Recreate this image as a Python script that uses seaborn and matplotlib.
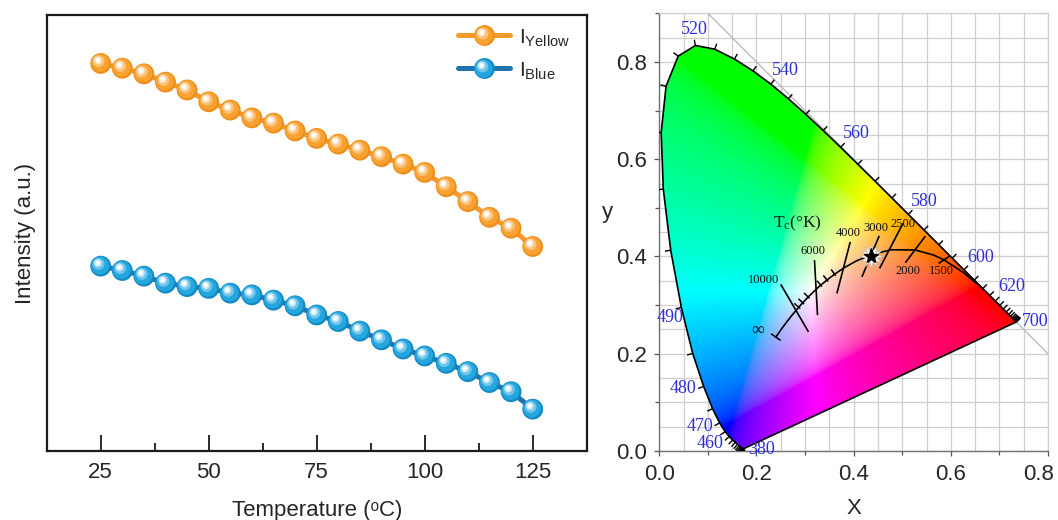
import numpy as np
import pandas as pd
import matplotlib
matplotlib.use("Agg")
import matplotlib.pyplot as plt
import seaborn as sns
from matplotlib.transforms import ScaledTranslation
from matplotlib.lines import Line2D
from matplotlib.patches import Polygon
from matplotlib.collections import LineCollection
from matplotlib.legend_handler import HandlerBase
from matplotlib.ticker import FixedLocator, FormatStrFormatter
from matplotlib.colors import to_rgb

# ---------------- data: left panel ----------------
temperature = [25, 30, 35, 40, 45, 50, 55, 60, 65, 70, 75, 80, 85, 90, 95, 100, 105, 110, 115, 120, 125]
i_yellow = [88.9, 87.8, 86.5, 84.6, 82.8, 80.1, 78.2, 76.4, 75.2, 73.4, 71.7, 70.4, 69.0, 67.5,
            65.8, 63.9, 60.6, 57.2, 53.6, 51.1, 46.9]
i_blue = [42.4, 41.4, 40.1, 38.5, 37.7, 37.3, 36.2, 35.8, 34.6, 33.3, 31.2, 29.7, 27.5, 25.5,
          23.4, 21.8, 20.1, 18.2, 15.7, 13.6, 9.6]
x_ticks_left = [25, 50, 75, 100, 125]

# ---------------- data: CIE 1931 panel ----------------
wavelength = list(range(380, 705, 5))
locus_x = [0.1741, 0.1740, 0.1738, 0.1736, 0.1733, 0.1730, 0.1726, 0.1721, 0.1714, 0.1703,
           0.1689, 0.1669, 0.1644, 0.1611, 0.1566, 0.1510, 0.1440, 0.1355, 0.1241, 0.1096,
           0.0913, 0.0687, 0.0454, 0.0235, 0.0082, 0.0039, 0.0139, 0.0389, 0.0743, 0.1142,
           0.1547, 0.1929, 0.2296, 0.2658, 0.3016, 0.3373, 0.3731, 0.4087, 0.4441, 0.4788,
           0.5125, 0.5448, 0.5752, 0.6029, 0.6270, 0.6482, 0.6658, 0.6801, 0.6915, 0.7006,
           0.7079, 0.7140, 0.7190, 0.7230, 0.7260, 0.7283, 0.7300, 0.7311, 0.7320, 0.7327,
           0.7334, 0.7340, 0.7344, 0.7346, 0.7347]
locus_y = [0.0050, 0.0050, 0.0049, 0.0049, 0.0048, 0.0048, 0.0048, 0.0048, 0.0051, 0.0058,
           0.0069, 0.0086, 0.0109, 0.0138, 0.0177, 0.0227, 0.0297, 0.0399, 0.0578, 0.0868,
           0.1327, 0.2007, 0.2950, 0.4127, 0.5384, 0.6548, 0.7502, 0.8120, 0.8338, 0.8262,
           0.8059, 0.7816, 0.7543, 0.7243, 0.6923, 0.6589, 0.6245, 0.5896, 0.5547, 0.5202,
           0.4866, 0.4544, 0.4242, 0.3965, 0.3725, 0.3514, 0.3340, 0.3197, 0.3083, 0.2993,
           0.2920, 0.2859, 0.2809, 0.2770, 0.2740, 0.2717, 0.2700, 0.2689, 0.2680, 0.2673,
           0.2666, 0.2660, 0.2656, 0.2654, 0.2653]
wl_labels = [380, 460, 470, 480, 490, 520, 540, 560, 580, 600, 620, 700]

planck_T = [np.inf, 25000, 20000, 15000, 12000, 10000, 9000, 8000, 7000, 6500, 6000, 5500,
            5000, 4500, 4000, 3500, 3000, 2500, 2000, 1667, 1500, 1200, 1000]
planck_x = [0.2399, 0.2525, 0.2564, 0.2637, 0.2718, 0.2807, 0.2870, 0.2952, 0.3064, 0.3135,
            0.3221, 0.3323, 0.3451, 0.3607, 0.3805, 0.4053, 0.4369, 0.4770, 0.5267, 0.5646,
            0.5857, 0.6253, 0.6528]
planck_y = [0.2342, 0.2523, 0.2576, 0.2672, 0.2776, 0.2883, 0.2956, 0.3048, 0.3166, 0.3236,
            0.3318, 0.3410, 0.3516, 0.3635, 0.3768, 0.3907, 0.4041, 0.4137, 0.4133, 0.4029,
            0.3931, 0.3674, 0.3444]
minor_iso_T = [9000, 8000, 7000, 5500, 5000, 4500]

iso_labels = ["10000", "6000", "4000", "3000", "2500", "2000", "1500"]
iso_x0 = [0.250, 0.3194, 0.393, 0.4527, 0.5015, 0.5475, 0.5976]
iso_y0 = [0.3426, 0.3925, 0.430, 0.4425, 0.468, 0.4418, 0.4007]
iso_x1 = [0.307, 0.3256, 0.3655, 0.417, 0.4533, 0.5063, 0.5749]
iso_y1 = [0.245, 0.2795, 0.324, 0.358, 0.3755, 0.387, 0.3857]

sample_x = [0.4362]
sample_y = [0.4007]

# ---------------- style ----------------
sns.set_theme(style="ticks")
plt.rcParams["font.family"] = ["Liberation Sans", "DejaVu Sans"]
plt.rcParams["mathtext.fontset"] = "custom"
plt.rcParams["mathtext.sf"] = "Liberation Sans"
plt.rcParams["mathtext.rm"] = "Liberation Serif"
plt.rcParams["mathtext.it"] = "Liberation Serif:italic"

W, H = 1058, 520
fig = plt.figure(figsize=(W / 100, H / 100), dpi=100)

ax1 = fig.add_axes([46.7 / W, (H - 451) / H, 540 / W, 436 / H])
ax2 = fig.add_axes([659.3 / W, (H - 451) / H, 388.7 / W, 437.7 / H])

# ---------------- left panel ----------------
orange = "#F9A232"
orange_dark = "#EE8E1A"
orange_line = "#F39A2C"
blue = "#24A6DF"
blue_dark = "#1389C4"
blue_line = "#1F74AE"


def tint(c, f):
    r = np.array(to_rgb(c))
    return tuple(r + (1 - r) * f)


df = pd.DataFrame({"T": temperature * 2,
                   "I": i_yellow + i_blue,
                   "series": ["Yellow"] * len(temperature) + ["Blue"] * len(temperature)})

for name, lc in [("Yellow", orange_line), ("Blue", blue_line)]:
    sns.lineplot(data=df[df.series == name], x="T", y="I", color=lc, lw=3.6, ax=ax1,
                 estimator=None, sort=False, zorder=2)

sphere_layers = [
    (15.0, "dark", 0.0, 0.0),
    (13.0, "base", -0.5, 0.5),
    (8.5, 0.35, -1.5, 1.6),
    (5.5, 0.75, -2.0, 2.2),
    (3.0, 1.0, -2.2, 2.4),
]


def draw_spheres(ax, x, y, base, dark, z=3):
    for size, kind, dx, dy in sphere_layers:
        if kind == "dark":
            c = dark
        elif kind == "base":
            c = base
        else:
            c = tint(base, kind)
        tr = ax.transData + ScaledTranslation(dx / 72, dy / 72, fig.dpi_scale_trans)
        ax.scatter(x, y, s=size ** 2, color=c, edgecolors="none", transform=tr, zorder=z)
        z += 0.01


draw_spheres(ax1, temperature, i_yellow, orange, orange_dark)
draw_spheres(ax1, temperature, i_blue, blue, blue_dark)

ax1.set_xlim(12.5, 137.5)
ax1.set_ylim(0, 100)
ax1.set_yticks([])
ax1.xaxis.set_major_locator(FixedLocator(x_ticks_left))
ax1.xaxis.set_minor_locator(FixedLocator([37.5, 62.5, 87.5, 112.5]))
ax1.tick_params(axis="x", which="major", direction="in", length=11.5, width=1.3,
                labelsize=16, pad=8, color="#1a1a1a")
ax1.tick_params(axis="x", which="minor", direction="in", length=6, width=1.3, color="#1a1a1a")
for sp in ax1.spines.values():
    sp.set_visible(True)
    sp.set_linewidth(1.6)
    sp.set_color("#1a1a1a")
ax1.set_xlabel("Temperature (\u1d52C)", fontsize=16, labelpad=12)
ax1.set_ylabel("Intensity (a.u.)", fontsize=16, labelpad=8)


class SphereHandler(HandlerBase):
    def __init__(self, line_color, base, dark):
        super().__init__()
        self.line_color = line_color
        self.base = base
        self.dark = dark

    def create_artists(self, legend, orig_handle, xdescent, ydescent, width, height,
                       fontsize, trans):
        y = height / 2 - ydescent
        cx = width / 2 - xdescent
        arts = [Line2D([-xdescent, width - xdescent], [y, y], color=self.line_color,
                       lw=3.6, solid_capstyle="round")]
        for size, kind, dx, dy in sphere_layers:
            if kind == "dark":
                c = self.dark
            elif kind == "base":
                c = self.base
            else:
                c = tint(self.base, kind)
            arts.append(Line2D([cx + dx], [y + dy], marker="o", markersize=size,
                               color=c, markeredgewidth=0, linestyle="none"))
        for a in arts:
            a.set_transform(trans)
        return arts


h_y = Line2D([], [])
h_b = Line2D([], [])
ax1.legend([h_y, h_b], [r"I$_{\mathsf{Yellow}}$", r"I$_{\mathsf{Blue}}$"],
           handler_map={h_y: SphereHandler(orange_line, orange, orange_dark),
                        h_b: SphereHandler(blue_line, blue, blue_dark)},
           loc="upper left", bbox_to_anchor=((458 - 46.7) / 540, 1 - (26.5 - 15) / 436),
           frameon=False, fontsize=15, handlelength=2.5, handletextpad=0.45,
           labelspacing=0.58, borderpad=0, borderaxespad=0)

# ---------------- right panel: CIE 1931 ----------------
ax2.set_xlim(0, 0.8)
ax2.set_ylim(0, 0.9)
ax2.set_axisbelow(True)
grid_vals = np.arange(0, 0.9001, 0.05)
ax2.xaxis.set_major_locator(FixedLocator([0.0, 0.2, 0.4, 0.6, 0.8]))
ax2.xaxis.set_minor_locator(FixedLocator([0.1, 0.3, 0.5, 0.7]))
ax2.yaxis.set_major_locator(FixedLocator([0.0, 0.2, 0.4, 0.6, 0.8]))
ax2.yaxis.set_minor_locator(FixedLocator([0.1, 0.3, 0.5, 0.7, 0.9]))
for g in grid_vals:
    if g <= 0.8001:
        ax2.axvline(g, color="#cfcfcf", lw=0.9, zorder=0)
    ax2.axhline(g, color="#cfcfcf", lw=0.9, zorder=0)
ax2.axline((0, 1), slope=-1, color="#bdbdbd", lw=1.0, zorder=0.5)
ax2.tick_params(axis="both", which="both", direction="out", color="#555555", width=0.9)
ax2.tick_params(axis="both", which="major", length=3.5, labelsize=16)
ax2.tick_params(axis="both", which="minor", length=3)
ax2.tick_params(axis="x", which="major", pad=6)
ax2.tick_params(axis="y", which="major", pad=5)
ax2.xaxis.set_major_formatter(FormatStrFormatter("%.1f"))
ax2.yaxis.set_major_formatter(FormatStrFormatter("%.1f"))
for side in ["top", "right"]:
    ax2.spines[side].set_color("#cfcfcf")
    ax2.spines[side].set_linewidth(0.9)
for side in ["left", "bottom"]:
    ax2.spines[side].set_color("#707070")
    ax2.spines[side].set_linewidth(1.0)
ax2.set_xlabel("X", fontsize=16, labelpad=9)
ax2.set_ylabel("y", fontsize=16, rotation=0, va="center", ha="center")
ax2.yaxis.set_label_coords(-0.133, 0.544)

# colour fill
gx = np.linspace(0, 0.8, 640)
gy = np.linspace(0.0005, 0.9, 720)
GX, GY = np.meshgrid(gx, gy)
XYZ = np.stack([GX / GY, np.ones_like(GX), (1 - GX - GY) / GY], axis=-1)
M = np.array([[3.2406, -1.5372, -0.4986],
              [-0.9689, 1.8758, 0.0415],
              [0.0557, -0.2040, 1.0570]])
rgb = XYZ @ M.T
rgb = np.clip(rgb, 0, None)
rgb = rgb / (rgb.max(axis=-1, keepdims=True) + 1e-12)
srgb = np.where(rgb <= 0.0031308, 12.92 * rgb, 1.055 * np.power(rgb, 1 / 2.4) - 0.055)
srgb = np.clip(srgb, 0, 1)
img = ax2.imshow(srgb, extent=(0, 0.8, 0, 0.9), origin="lower", interpolation="bilinear",
                 aspect="auto", zorder=1)
locus_pts = np.column_stack([locus_x, locus_y])
clip_poly = Polygon(locus_pts, closed=True, transform=ax2.transData, facecolor="none",
                    edgecolor="none")
ax2.add_patch(clip_poly)
img.set_clip_path(clip_poly)

# outline
sns.lineplot(x=locus_x + [locus_x[0]], y=locus_y + [locus_y[0]], sort=False, estimator=None,
             color="black", lw=1.2, ax=ax2, zorder=3)

# wavelength ticks (outward normals)
lx = np.array(locus_x)
ly = np.array(locus_y)
tx = np.gradient(lx)
ty = np.gradient(ly)
nrm = np.hypot(tx, ty) + 1e-12
nx, ny = -ty / nrm, tx / nrm
tick_len = 0.012
segs = [[(lx[i], ly[i]), (lx[i] + tick_len * nx[i], ly[i] + tick_len * ny[i])]
        for i in range(len(lx))]
ax2.add_collection(LineCollection(segs, colors="black", linewidths=1.0, zorder=3))

label_offsets = {380: (0.037, -0.001), 460: (-0.040, -0.015), 470: (-0.040, -0.007),
                 480: (-0.042, -0.005), 490: (-0.023, -0.020), 520: (-0.002, 0.032),
                 540: (0.029, 0.028), 560: (0.032, 0.029), 580: (0.032, 0.026),
                 600: (0.034, 0.026), 620: (0.033, 0.029), 700: (0.039, 0.0)}
serif = ["Liberation Serif", "DejaVu Serif"]
for wl in wl_labels:
    i = wavelength.index(wl)
    dx, dy = label_offsets[wl]
    ax2.text(lx[i] + dx, ly[i] + dy, str(wl), color="#2E2ED6", fontsize=13,
             family=serif, ha="center", va="center", zorder=4)

# Planckian locus
sns.lineplot(x=planck_x, y=planck_y, sort=False, estimator=None, color="black", lw=1.2,
             ax=ax2, zorder=4)
px = np.array(planck_x)
py = np.array(planck_y)
ptx = np.gradient(px)
pty = np.gradient(py)
pn = np.hypot(ptx, pty)
pnx, pny = -pty / pn, ptx / pn
psegs = []
for T in minor_iso_T:
    i = planck_T.index(T)
    psegs.append([(px[i] - 0.004 * pnx[i], py[i] - 0.004 * pny[i]),
                  (px[i] + 0.012 * pnx[i], py[i] + 0.012 * pny[i])])
i0 = 0
psegs.append([(px[i0] - 0.012 * pnx[i0], py[i0] - 0.012 * pny[i0]),
              (px[i0] + 0.012 * pnx[i0], py[i0] + 0.012 * pny[i0])])
ax2.add_collection(LineCollection(psegs, colors="black", linewidths=1.1, zorder=4))

iso_segs = [[(a, b), (c, d)] for a, b, c, d in zip(iso_x0, iso_y0, iso_x1, iso_y1)]
ax2.add_collection(LineCollection(iso_segs, colors="black", linewidths=1.2, zorder=4))

iso_label_pos = {"10000": (0.2146, 0.3514), "6000": (0.316, 0.4117), "4000": (0.388, 0.4474),
                 "3000": (0.445, 0.459), "2500": (0.5007, 0.4659), "2000": (0.5113, 0.3705),
                 "1500": (0.5798, 0.3705)}
for lab in iso_labels:
    x0, y0 = iso_label_pos[lab]
    ax2.text(x0, y0, lab, fontsize=9, family=serif, ha="center", va="center", zorder=5,
             color="#111111")
ax2.text(0.285, 0.468, r"T$_\mathrm{c}$(°K)", fontsize=12.5, family=serif, ha="center",
         va="center", zorder=5, color="#111111")
ax2.text(0.2028, 0.2487, "∞", fontsize=13, family=serif, ha="center", va="center", zorder=5,
         color="#111111")

# sample point
ax2.plot(sample_x, sample_y, linestyle="none", marker=(12, 1, 0), markersize=17,
         color="white", markeredgecolor="#bbbbbb", markeredgewidth=0.5, zorder=6)
ax2.plot(sample_x, sample_y, linestyle="none", marker="*", markersize=11,
         color="black", markeredgecolor="black", zorder=7)

# keep the last x tick label inside the figure, as in the reference
last = ax2.get_xticklabels()[-1]
last.set_transform(last.get_transform() + ScaledTranslation(-9 / 100, 0, fig.dpi_scale_trans))

fig.savefig("out.png", dpi=100)
